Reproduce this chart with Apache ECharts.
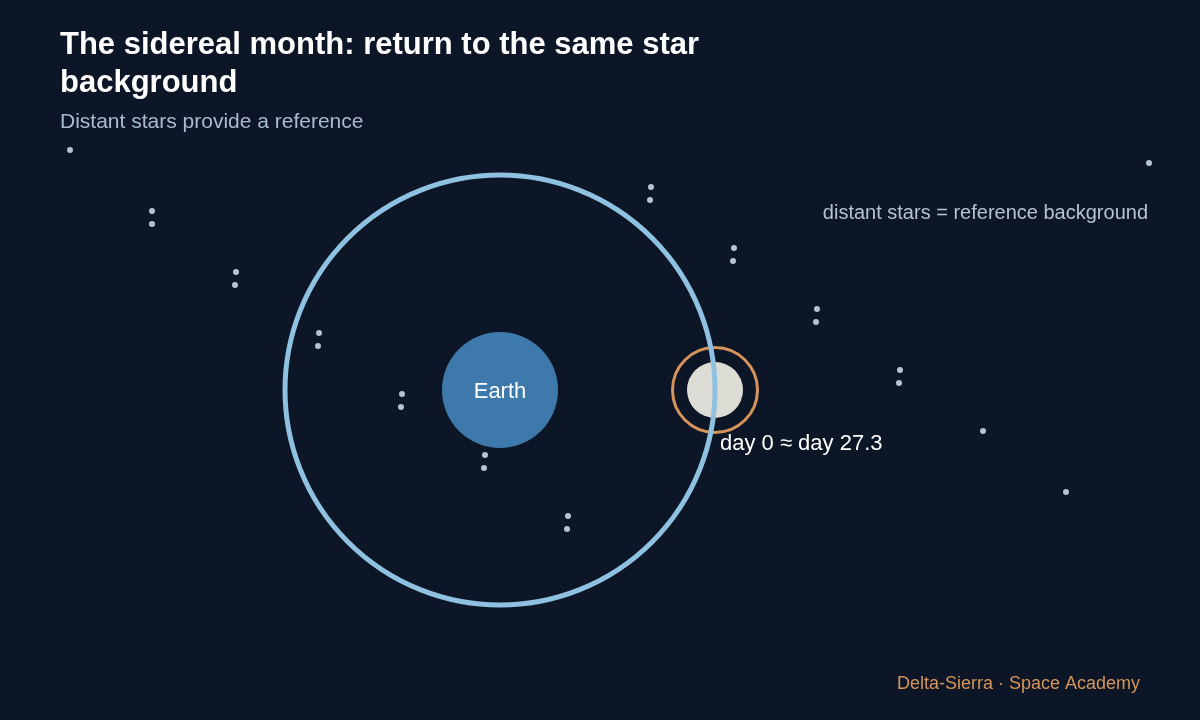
<!DOCTYPE html>
<html><head><meta charset="utf-8">
<script src="https://cdn.jsdelivr.net/npm/echarts@6/dist/echarts.min.js"></script>
<style>html,body{margin:0;background:#0d1627}#c{width:1200px;height:720px}</style>
</head><body><div id="c"></div>
<script>
const stars = [[70,150],[152,211],[152,224],[236,272],[235,285],[319,333],[318,346],[402,394],[401,407],[485,455],[484,468],[568,516],[567,529],[651,187],[650,200],[734,248],[733,261],[817,309],[816,322],[900,370],[899,383],[983,431],[1066,492],[1149,163]];
const earth = [500,390];
const orbitRadius = 215;
const moon = [715,390];
const moonLabel = 'day 0 ≈ day 27.3';
const F = 'Liberation Sans, Arial, sans-serif';
const chart = echarts.init(document.getElementById('c'));
chart.setOption({
  backgroundColor:'#0d1627',
  animation:false,
  title:[
    {text:'The sidereal month: return to the same star\nbackground',left:55,top:21,textStyle:{color:'#ffffff',fontSize:31,fontWeight:'bold',fontFamily:F,lineHeight:38}},
    {text:'Distant stars provide a reference',left:55,top:107,textStyle:{color:'#a9bccf',fontSize:21,fontWeight:'normal',fontFamily:F}},
    {text:'distant stars = reference background',right:47,top:198,textStyle:{color:'#b5c2d0',fontSize:20,fontWeight:'normal',fontFamily:F}},
    {text:'Delta-Sierra · Space Academy',right:55,top:670,textStyle:{color:'#d4945a',fontSize:18,fontWeight:'normal',fontFamily:F}}
  ],
  grid:{left:0,right:0,top:0,bottom:0},
  xAxis:{type:'value',min:0,max:1200,show:false},
  yAxis:{type:'value',min:0,max:720,inverse:true,show:false},
  series:[
    {type:'scatter',data:stars,symbolSize:6,itemStyle:{color:'#b5c2d0',opacity:1},z:1},
    {type:'scatter',data:[earth],symbolSize:116,itemStyle:{color:'#3d7aab',opacity:1},z:2,
      label:{show:true,position:'inside',offset:[0,2],formatter:'Earth',color:'#ffffff',fontSize:22,fontFamily:F}},
    {type:'scatter',data:[moon],symbolSize:85,itemStyle:{color:'transparent',borderColor:'#d4945a',borderWidth:3,opacity:1},z:3},
    {type:'scatter',data:[moon],symbolSize:56,itemStyle:{color:'#dcdcd4',opacity:1},z:4,
      label:{show:true,position:[33,71],formatter:moonLabel,color:'#ffffff',fontSize:22,fontFamily:F}},
    {type:'scatter',data:[earth],symbolSize:orbitRadius*2,itemStyle:{color:'transparent',borderColor:'#8fc1e0',borderWidth:5,opacity:1},z:5,silent:true}
  ]
});
</script></body></html>
